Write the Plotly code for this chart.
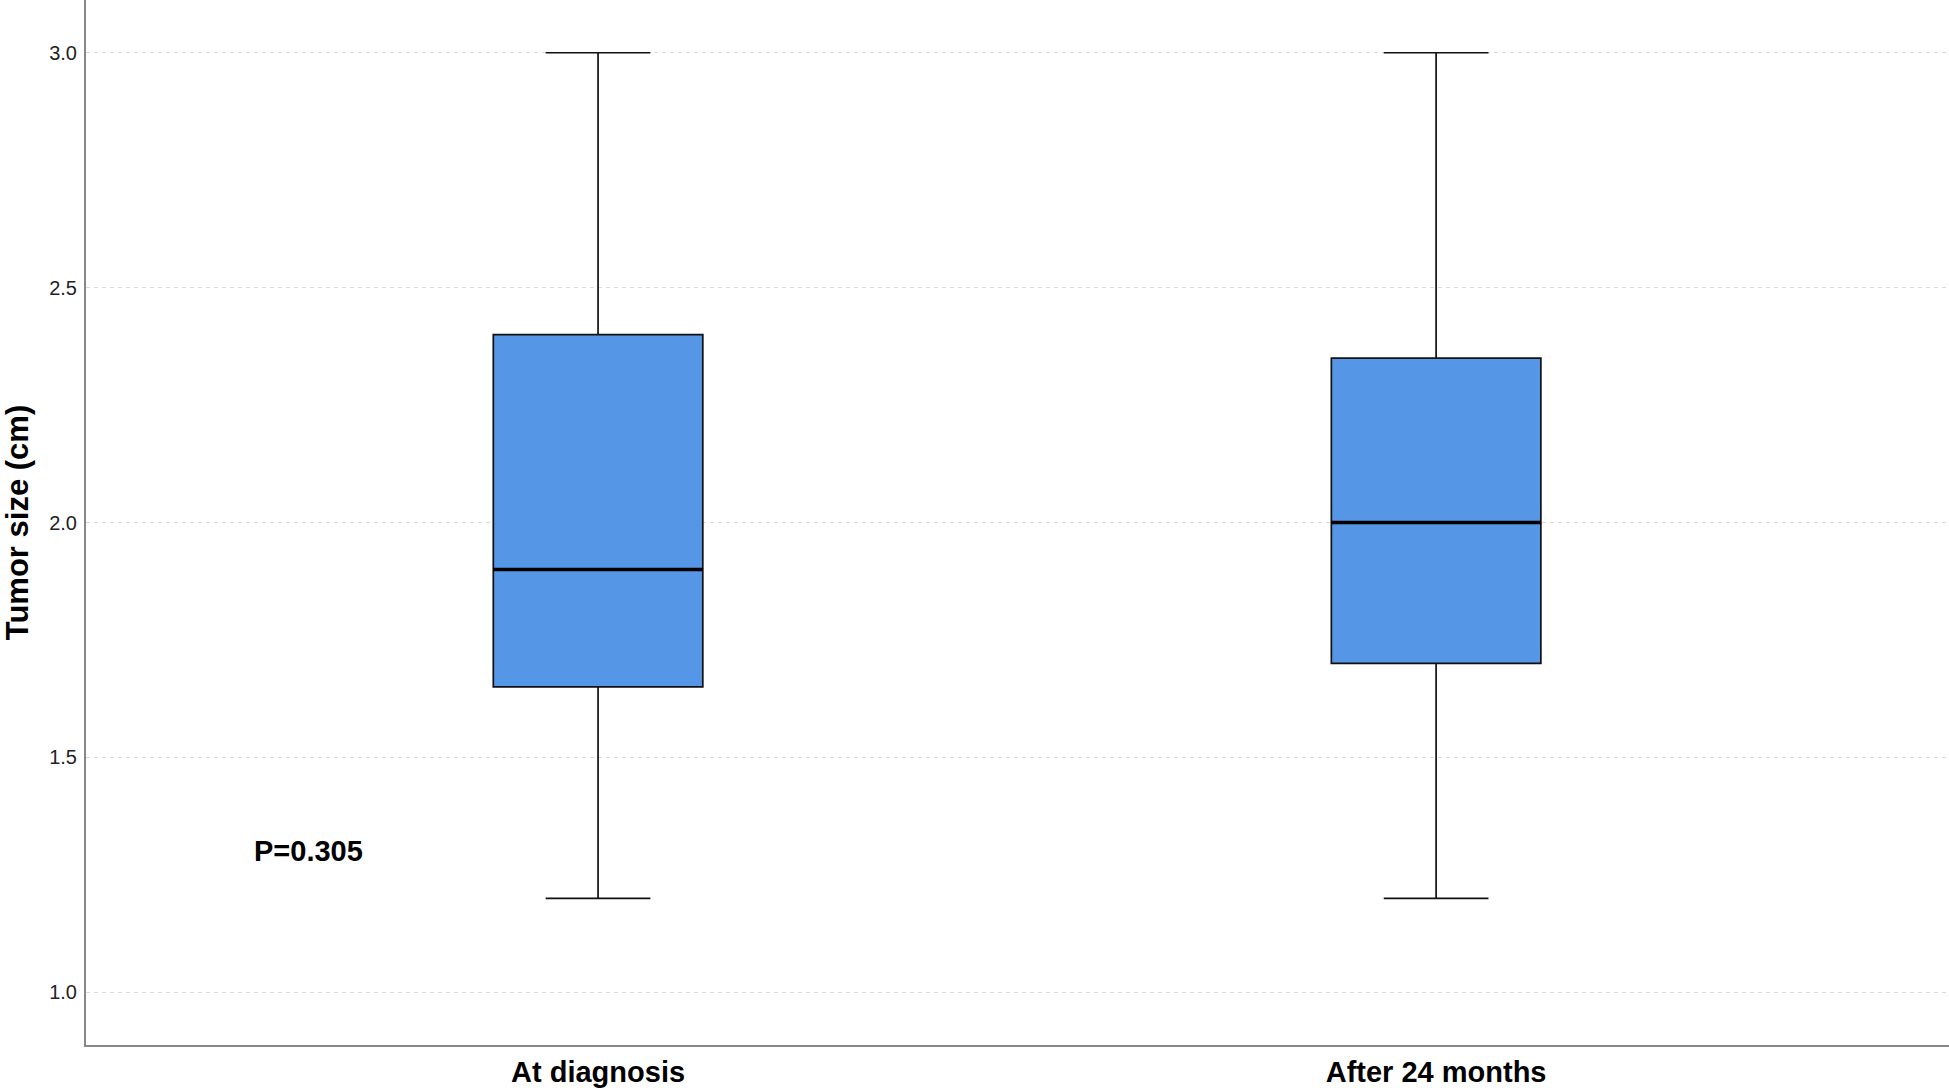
import plotly.graph_objects as go

categories = ["At diagnosis", "After 24 months"]
q1 = [1.65, 1.70]
median = [1.90, 2.00]
q3 = [2.40, 2.35]
lower = [1.20, 1.20]
upper = [3.00, 3.00]
y_ticks = [1.0, 1.5, 2.0, 2.5, 3.0]
p_label = "P=0.305"

pos = list(range(len(categories)))
box_w = 0.25
font = "Liberation Sans, Arial, sans-serif"

fig = go.Figure()
fig.add_trace(go.Box(
    x=pos, q1=q1, median=median, q3=q3,
    lowerfence=lower, upperfence=upper,
    width=box_w, whiskerwidth=0.5,
    fillcolor="#5596E6",
    line=dict(color="#111111", width=1.7),
    boxpoints=False, showlegend=False, hoverinfo="skip",
))
for i in pos:
    fig.add_trace(go.Scatter(
        x=[i - box_w / 2, i + box_w / 2], y=[median[i], median[i]],
        mode="lines", line=dict(color="#000000", width=3.6),
        showlegend=False, hoverinfo="skip",
    ))

fig.add_annotation(
    x=-0.345, y=1.30, xref="x", yref="y", text=p_label, showarrow=False,
    font=dict(family=font, size=29, color="#000000", weight="bold"),
)

fig.update_layout(
    width=1949, height=1090,
    margin=dict(l=86, r=0, t=0, b=45),
    paper_bgcolor="white", plot_bgcolor="white",
    font=dict(family=font),
)
fig.update_xaxes(
    range=[-0.611, 1.612], tickvals=pos, ticktext=categories,
    showgrid=False, zeroline=False, automargin=False,
    showline=True, linecolor="#888888", linewidth=2,
    ticks="", ticklabelstandoff=0,
    tickfont=dict(family=font, size=29, color="#000000", weight="bold"),
)
fig.update_yaxes(
    range=[0.8877, 3.1123], tickvals=y_ticks, tickformat=".1f",
    showgrid=True, gridcolor="#d9d9d9", griddash="4px,4px", gridwidth=1,
    zeroline=False, automargin=False,
    showline=True, linecolor="#888888", linewidth=2,
    ticks="", ticklabelstandoff=3,
    tickfont=dict(family=font, size=20, color="#222222"),
    title=dict(text="Tumor size (cm)", standoff=33,
               font=dict(family=font, size=31, color="#000000", weight="bold")),
)

fig.write_html("out.html", config={"displayModeBar": False},
               post_script="document.body.style.margin='0';")
